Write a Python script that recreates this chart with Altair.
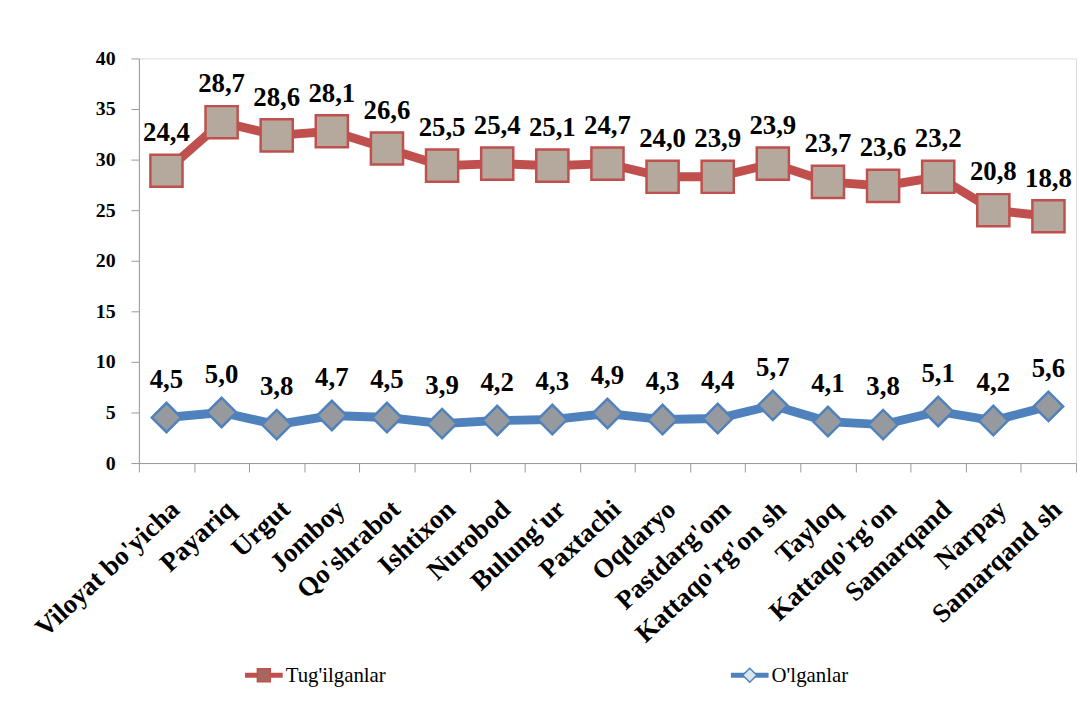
import altair as alt
import pandas as pd

categories = ["Viloyat bo'yicha", "Payariq", "Urgut", "Jomboy", "Qo'shrabot",
              "Ishtixon", "Nurobod", "Bulung'ur", "Paxtachi", "Oqdaryo",
              "Pastdarg'om", "Kattaqo'rg'on sh", "Tayloq", "Kattaqo'rg'on",
              "Samarqand", "Narpay", "Samarqand sh"]
births = [24.4, 28.7, 28.6, 28.1, 26.6, 25.5, 25.4, 25.1, 24.7, 24.0,
          23.9, 23.9, 23.7, 23.6, 23.2, 20.8, 18.8]
deaths = [4.5, 5.0, 3.8, 4.7, 4.5, 3.9, 4.2, 4.3, 4.9, 4.3,
          4.4, 5.7, 4.1, 3.8, 5.1, 4.2, 5.6]
series_names = ["Tug'ilganlar", "O'lganlar"]
y_ticks = [0, 5, 10, 15, 20, 25, 30, 35, 40]

FONT = "Liberation Serif, Times New Roman, serif"
RED = "#C0504D"
BLUE = "#4F81BD"

df = pd.DataFrame({"cat": categories, "b": births, "d": deaths})

base = alt.Chart(df).transform_fold(
    ["b", "d"], as_=["key", "value"]
).transform_calculate(
    series="datum.key == 'b' ? \"Tug'ilganlar\" : \"O'lganlar\"",
    ypos="datum.key == 'b' ? datum.value + datum.d : datum.value",
    label="replace(format(datum.value, '.1f'), '.', ',')",
)

x = alt.X(
    "cat:N", sort=categories,
    scale=alt.Scale(type="band", paddingInner=0, paddingOuter=0),
    axis=alt.Axis(title=None, labelAngle=-43, tickBand="extent",
                  labelFont=FONT, labelFontSize=27, labelFontWeight="bold",
                  labelColor="black", labelPadding=24, labelLimit=400,
                  domainColor="#999999", tickColor="#999999", tickSize=9,
                  labelAlign="right", labelBaseline="top"),
)
y = alt.Y(
    "ypos:Q",
    scale=alt.Scale(domain=[0, 40], nice=False, zero=True),
    axis=alt.Axis(title=None, values=y_ticks, grid=False, labelFont=FONT,
                  labelFontSize=20, labelFontWeight="bold", labelColor="black",
                  domainColor="#999999", tickColor="#999999", tickSize=8,
                  labelPadding=16),
)

line = base.mark_line(strokeWidth=9).encode(
    x=x, y=y,
    stroke=alt.Stroke("series:N", scale=alt.Scale(domain=series_names, range=[RED, BLUE]), legend=None),
    detail="series:N",
)

points = base.mark_point(filled=True, opacity=1, strokeWidth=2.5).encode(
    x=x, y=y,
    shape=alt.Shape("series:N", scale=alt.Scale(domain=series_names, range=["square", "diamond"]), legend=None),
    size=alt.Size("series:N", scale=alt.Scale(domain=series_names, range=[1050, 880]), legend=None),
    stroke=alt.Stroke("series:N", scale=alt.Scale(domain=series_names, range=[RED, BLUE]), legend=None),
    fill=alt.Fill("series:N", scale=alt.Scale(domain=series_names, range=["#B5A99D", "#969A9F"]), legend=None),
)

labels = base.mark_text(font=FONT, fontSize=27, fontWeight="bold", color="black",
                        baseline="alphabetic", dy=-30).encode(
    x=x, y=y, text="label:N",
)

# manual legend (decoration)
def legend_entry(name, color, shape, fill, x0, size):
    d = alt.Chart(pd.DataFrame({"series": [name]}))
    stub = d.mark_rule(strokeWidth=5, color=color).encode(
        x=alt.value(x0), x2=alt.value(x0 + 38), y=alt.value(622))
    sym = d.mark_point(shape=shape, filled=True, opacity=1, size=size, fill=fill,
                       stroke=color, strokeWidth=1.5).encode(
        x=alt.value(x0 + 19), y=alt.value(622))
    txt = d.mark_text(align="left", baseline="middle", font=FONT, fontSize=21,
                      color="black").encode(
        x=alt.value(x0 + 41), y=alt.value(623), text="series:N")
    return [stub, sym, txt]

leg = legend_entry(series_names[0], RED, "square", "#A8675E", 107, 170) + \
      legend_entry(series_names[1], BLUE, "diamond", "#DCE6F2", 597, 200)

chart = alt.layer(line, points, labels, *leg).properties(
    width=945, height=408,
    padding={"left": 22, "top": 38, "right": 0, "bottom": 5},
).configure_view(stroke=None).configure(background="white", font=FONT
).configure_text(font=FONT)

chart.save("out.html", embed_options={"renderer": "svg", "actions": False})
